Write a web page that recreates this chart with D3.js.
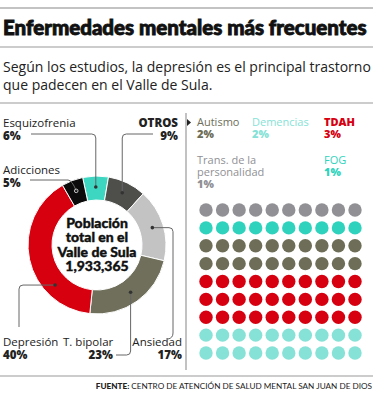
<!DOCTYPE html>
<html>
<head>
<meta charset="utf-8">
<script src="https://cdn.jsdelivr.net/npm/d3@7"></script>
<style>
  body { margin: 0; background: #fff; }
  svg { display: block; font-family: "Open Sans", Lato, sans-serif; }
  .heavy { font-family: Lato, sans-serif; font-weight: 900; }
</style>
</head>
<body>
<div id="chart"></div>
<script>
// datos del grafico
const donutLabels = ["Esquizofrenia", "OTROS", "Ansiedad", "T. bipolar", "Depresión", "Adicciones"];
const donutValues = [6, 9, 17, 23, 40, 5];
const donutColors = ["#3dd6c1", "#4e4e4b", "#c3c3c3", "#6f6f5b", "#d7000f", "#0b0b0b"];

const otrosLabels = ["Trans. de la personalidad", "FOG", "Autismo", "TDAH", "Demencias"];
const otrosValues = [1, 1, 2, 3, 2];
const otrosColors = ["#909095", "#2fd3bd", "#6e6e58", "#d60010", "#86e2d6"];

const totalPoblacion = 1933365;

var width = 375
var height = 400

var svg = d3.select("#chart")
  .append("svg")
    .attr("width", width)
    .attr("height", height)

// lineas horizontales
const rules = [8, 47, 103, 376];
svg.selectAll(".rule")
  .data(rules)
  .enter()
  .append("line")
    .attr("x1", 0).attr("x2", 373)
    .attr("y1", d => d).attr("y2", d => d)
    .attr("stroke", (d, i) => i == 0 ? "#888" : "#999")
    .attr("stroke-width", 1.2)

svg.append("text")
  .attr("class", "heavy")
  .attr("x", 3).attr("y", 35)
  .style("font-size", "20.5px")
  .attr("fill", "#111")
  .attr("stroke", "#111")
  .attr("stroke-width", 0.9)
  .text("Enfermedades mentales más frecuentes")

svg.append("text")
  .attr("x", 3).attr("y", 72)
  .style("font-size", "14px")
  .attr("fill", "#222")
  .text("Según los estudios, la depresión es el principal trastorno")
svg.append("text")
  .attr("x", 3).attr("y", 90)
  .style("font-size", "14px")
  .attr("fill", "#222")
  .text("que padecen en el Valle de Sula.")

// separador vertical con flecha
svg.append("line")
  .attr("x1", 186).attr("x2", 186)
  .attr("y1", 113).attr("y2", 370)
  .attr("stroke", "#999")
  .attr("stroke-width", 1.2)
svg.append("path")
  .attr("d", "M187,119 L191,122.5 L187,126 Z")
  .attr("fill", "#222")

// dona
var cx = 97, cy = 245
var outerR = 69, innerR = 45

var pie = d3.pie().sort(null).value(d => d)
  .startAngle(-12 * Math.PI / 180)
  .endAngle((360 - 12) * Math.PI / 180)
var arcs = pie(donutValues)

var arcGenerator = d3.arc()
  .innerRadius(innerR)
  .outerRadius(outerR)

var g = svg.append("g")
  .attr("transform", "translate(" + cx + "," + cy + ")");

g.selectAll(".arc")
  .data(arcs)
  .enter()
  .append("path")
    .attr("d", arcGenerator)
    .attr("fill", (d, i) => donutColors[i])
    .attr("stroke", "#fff")
    .attr("stroke-width", 1)

// texto central
const centerLines = ["Población", "total en el", "Valle de Sula", d3.format(",")(totalPoblacion)];
g.selectAll(".center")
  .data(centerLines)
  .enter()
  .append("text")
    .attr("class", "heavy")
    .attr("x", 0)
    .attr("y", (d, i) => -17 + i * 14.4)
    .attr("text-anchor", "middle")
    .style("font-size", "14px")
    .attr("fill", "#111")
    .attr("stroke", "#111")
    .attr("stroke-width", 0.4)
    .text(d => d)

// etiquetas y lineas guia (posiciones a mano, puntos desde el arco)
const labelPos = [
  { x: 3, y: 127, anchor: "start", bold: false, frac: 0.5 },
  { x: 178, y: 127, anchor: "end", bold: true, frac: 0.5 },
  { x: 182, y: 346, anchor: "end", bold: false, frac: 0.5 },
  { x: 113, y: 346, anchor: "end", bold: false, frac: 0.5, nameX: 63, nameAnchor: "start" },
  { x: 3, y: 346, anchor: "start", bold: false, frac: 0.28 },
  { x: 3, y: 174, anchor: "start", bold: false, frac: 0.5 }
];

const anchors = arcs.map((a, i) => {
  const ang = a.startAngle + (a.endAngle - a.startAngle) * labelPos[i].frac
  return [cx + 58 * Math.sin(ang), cy - 58 * Math.cos(ang)]
});

function leader(i) {
  const p = anchors[i]
  const r = 4
  switch (i) {
    case 0: return `M31,134 H${p[0] - r} Q${p[0]},134 ${p[0]},${134 + r} V${p[1]}`;
    case 1: return `M153,134 H${p[0] + r} Q${p[0]},134 ${p[0]},${134 + r} V${p[1]}`;
    case 2: return `M${p[0]},${p[1]} H${173 - r} Q173,${p[1]} 173,${p[1] + r} V333 Q173,338 168,339`;
    case 3: return `M${p[0]},${p[1]} V${351} Q${p[0]},355 ${p[0] - r},355 H116`;
    case 4: return `M${p[0]},${p[1]} H${19 + r} Q19,${p[1]} 19,${p[1] + r} V327`;
    case 5: return `M30,180 H68 Q72,180 ${p[0]},${p[1]}`;
  }
}

svg.selectAll(".leader")
  .data(arcs)
  .enter()
  .append("path")
    .attr("d", (d, i) => leader(i))
    .attr("fill", "none")
    .attr("stroke", "#666")
    .attr("stroke-width", 1)

svg.selectAll(".anchorDot")
  .data(anchors)
  .enter()
  .append("circle")
    .attr("cx", d => d[0])
    .attr("cy", d => d[1])
    .attr("r", 1.8)
    .attr("fill", (d, i) => i == 5 ? "none" : "#333")
    .attr("stroke", (d, i) => i == 5 ? "#ccc" : "none")

donutLabels.forEach((name, i) => {
  const lp = labelPos[i]
  svg.append("text")
    .attr("x", lp.nameX !== undefined ? lp.nameX : lp.x)
    .attr("y", lp.y)
    .attr("text-anchor", lp.nameAnchor || lp.anchor)
    .style("font-size", "11.5px")
    .style("font-weight", lp.bold ? 800 : 400)
    .attr("fill", "#222")
    .text(name)
  svg.append("text")
    .attr("x", lp.x)
    .attr("y", lp.y + 12.5)
    .attr("text-anchor", lp.anchor)
    .style("font-size", "11.5px")
    .style("font-weight", 800)
    .attr("fill", "#222")
    .text(donutValues[i] + "%")
});

// leyenda de OTROS
const otrosPos = [
  { x: 197, y: 164, lines: ["Trans. de la", "personalidad"] },
  { x: 324, y: 164, lines: ["FOG"] },
  { x: 197, y: 126, lines: ["Autismo"] },
  { x: 324, y: 126, lines: ["TDAH"], bold: true },
  { x: 252, y: 126, lines: ["Demencias"] }
];
otrosLabels.forEach((name, i) => {
  const op = otrosPos[i]
  const t = svg.append("text")
    .attr("x", op.x).attr("y", op.y)
    .style("font-size", "11px")
    .attr("fill", otrosColors[i])
  op.lines.forEach((ln, j) => {
    t.append("tspan")
      .attr("x", op.x)
      .attr("dy", j == 0 ? 0 : 12)
      .style("font-weight", op.bold ? 800 : 400)
      .text(ln)
  })
  t.append("tspan")
    .attr("x", op.x)
    .attr("dy", 12)
    .style("font-weight", 800)
    .text(otrosValues[i] + "%")
});

// matriz de puntos: una fila de 10 por cada 1%
const cols = 10
const dots = []
let row = 0
otrosValues.forEach((v, i) => {
  for (let r = 0; r < v; r++) {
    for (let c = 0; c < cols; c++) dots.push({ row: row, col: c, k: i })
    row++
  }
});
var xDot = d3.scaleLinear().domain([0, cols - 1]).range([206, 355])
var yDot = d3.scaleLinear().domain([0, row - 1]).range([210, 353])

svg.selectAll(".dot")
  .data(dots)
  .enter()
  .append("circle")
    .attr("cx", d => xDot(d.col))
    .attr("cy", d => yDot(d.row))
    .attr("r", 6.7)
    .attr("fill", d => otrosColors[d.k])

// fuente
var src = svg.append("text")
  .attr("x", 372).attr("y", 389)
  .attr("text-anchor", "end")
  .style("font-family", "Lato, sans-serif")
  .style("font-size", "8.2px")
  .attr("fill", "#222")
src.append("tspan").style("font-weight", 900).text("FUENTE: ")
src.append("tspan").text("CENTRO DE ATENCIÓN DE SALUD MENTAL SAN JUAN DE DIOS")
</script>
</body>
</html>
